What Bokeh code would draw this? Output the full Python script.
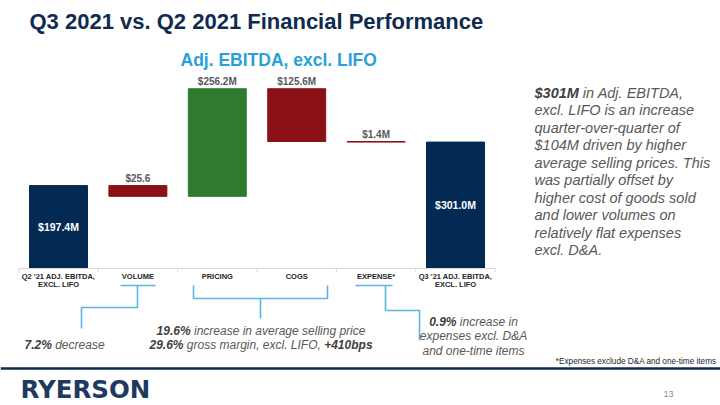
from bokeh.plotting import figure
from bokeh.models import Range1d, Label, ColumnDataSource
from bokeh.core.properties import value
from bokeh.embed import file_html
from bokeh.resources import INLINE

# ---------------- data ----------------
cat_line1 = ["Q2 '21 ADJ. EBITDA,", "VOLUME", "PRICING", "COGS", "EXPENSE*", "Q3 '21 ADJ. EBITDA,"]
cat_line2 = ["EXCL. LIFO", "", "", "", "", "EXCL. LIFO"]
steps = [197.4, -25.6, 256.2, -125.6, -1.4, 301.0]
is_total = [True, False, False, False, False, True]
value_labels = ["$197.4M", "$25.6", "$256.2M", "$125.6M", "$1.4M", "$301.0M"]

# ---------------- layout helpers ----------------
W, H = 720, 405
X0 = 58.0      # px of first category centre
DX = 79.4      # px per category
BASE = 268.0   # px (from top) of the zero line
S = 0.42       # px per $M
x_start = -X0 / DX
x_end = x_start + W / DX
y_end = BASE / S
y_start = y_end - H / S


def X(px):
    return x_start + px / DX


def Y(py):
    return y_end - py / S


FONT = "Liberation Sans"
NAVY = "#022a53"
RED = "#8c1117"
GREEN = "#2e7b30"
BLUE_LINE = "#5cb6df"
GREY = "#595959"
DARK = "#404040"

REG = {}
for ch, w in zip("abcdefghijklmnopqrstuvwxyz",
                 [556, 556, 500, 556, 556, 278, 556, 556, 222, 222, 500, 222, 833, 556, 556, 556, 556, 333, 500, 278, 556, 500, 722, 500, 500, 500]):
    REG[ch] = w
for ch, w in zip("ABCDEFGHIJKLMNOPQRSTUVWXYZ",
                 [667, 667, 722, 722, 667, 611, 778, 722, 278, 500, 667, 556, 833, 722, 778, 667, 778, 722, 667, 611, 722, 667, 944, 667, 667, 611]):
    REG[ch] = w
for ch in "0123456789":
    REG[ch] = 556
REG.update({" ": 278, ".": 278, ",": 278, "-": 333, "&": 667, "%": 889, "+": 584, "$": 556, "'": 191, "*": 389})
BOLD = dict(REG)
for ch, w in zip("abcdefghijklmnopqrstuvwxyz",
                 [556, 611, 556, 611, 556, 333, 611, 611, 278, 278, 556, 278, 889, 611, 611, 611, 611, 389, 556, 333, 611, 556, 778, 556, 556, 500]):
    BOLD[ch] = w
for ch, w in zip("ABCDEFGHIJKLMNOPQRSTUVWXYZ",
                 [722, 722, 722, 722, 667, 611, 778, 722, 278, 556, 722, 611, 833, 722, 778, 667, 778, 722, 667, 611, 722, 667, 944, 667, 667, 611]):
    BOLD[ch] = w
BOLD.update({"'": 238, "&": 722})


def tw(t, size, bold):
    d = BOLD if bold else REG
    return sum(d.get(c, 556) for c in t) * size / 1000.0


p = figure(width=W, height=H, output_backend="svg", toolbar_location=None,
           x_range=Range1d(x_start, x_end), y_range=Range1d(y_start, y_end),
           x_axis_location=None, y_axis_location=None, min_border=0,
           background_fill_color="white", border_fill_color="white")
p.outline_line_color = None
p.xgrid.visible = False
p.ygrid.visible = False


def label(text, px, py, size, style="normal", color=GREY, align="left", baseline="middle", font=FONT):
    p.add_layout(Label(x=X(px), y=Y(py), text=text, text_font=font, text_font_size=f"{size}px",
                       text_font_style=style, text_color=color, text_align=align,
                       text_baseline=baseline))


def rich(parts, px, py, size, align="left"):
    total = sum(tw(t, size, "bold" in st) for t, st, c in parts)
    x = px if align == "left" else (px - total / 2 if align == "center" else px - total)
    for t, st, c in parts:
        b = "bold" in st
        lead = len(t) - len(t.lstrip(" "))
        label(t.strip(" "), x + lead * tw(" ", size, b), py, size, st, c)
        x += tw(t, size, b)


# ---------------- waterfall ----------------
idx = list(range(len(steps)))
bottoms, tops, colors = [], [], []
run = 0.0
for v, tot in zip(steps, is_total):
    if tot:
        b, t = 0.0, v
        run = v
    else:
        b, t = run, run + v
        run += v
    bottoms.append(min(b, t))
    tops.append(max(b, t))
    colors.append(NAVY if tot else (GREEN if v > 0 else RED))

src = ColumnDataSource(dict(x=idx, bottom=bottoms, top=tops, color=colors))
p.vbar(x="x", bottom="bottom", top="top", width=0.73, fill_color="color", line_color="color",
       line_width=1, source=src)

# axis baseline and separators
p.segment(x0=[-0.5], y0=[0], x1=[len(idx) - 0.5], y1=[0], line_color="#d9d9d9", line_width=1)
sep = [i - 0.5 for i in range(len(idx) + 1)]
p.segment(x0=sep, y0=[0] * len(sep), x1=sep, y1=[-4 / S] * len(sep), line_color="#d9d9d9", line_width=1)

# value labels
out_x, out_y, out_t = [], [], []
in_x, in_y, in_t = [], [], []
for i, (tot, lab) in enumerate(zip(is_total, value_labels)):
    if tot:
        in_x.append(i); in_y.append(tops[i] / 2); in_t.append(lab)
    else:
        out_x.append(i); out_y.append(tops[i] + 1.5 / S); out_t.append(lab)
p.text(x=out_x, y=out_y, text=out_t, text_font=value(FONT), text_font_size="10px",
       text_font_style="bold", text_color=GREY, text_align="center", text_baseline="bottom")
p.text(x=in_x, y=in_y, text=in_t, text_font=value(FONT), text_font_size="10.5px",
       text_font_style="bold", text_color="white", text_align="center", text_baseline="middle")

# category labels
p.text(x=idx, y=[Y(276)] * len(idx), text=cat_line1, text_font=value(FONT), text_font_size="7.5px",
       text_font_style="bold", text_color="#262626", text_align="center", text_baseline="middle")
p.text(x=idx, y=[Y(284)] * len(idx), text=cat_line2, text_font=value(FONT), text_font_size="7.5px",
       text_font_style="bold", text_color="#262626", text_align="center", text_baseline="middle")

# ---------------- connectors ----------------
conn = [
    [(120, 285), (155, 285)],
    [(137, 285), (137, 307), (81, 307), (81, 328)],
    [(193, 285), (193, 298), (327, 298), (327, 285)],
    [(260, 298), (260, 318)],
    [(355, 285), (392, 285)],
    [(385, 285), (385, 310), (419, 310), (419, 340)],
]
p.multi_line(xs=[[X(a) for a, b in c] for c in conn], ys=[[Y(b) for a, b in c] for c in conn],
             line_color=BLUE_LINE, line_width=1.6)

# ---------------- texts ----------------
label("Q3 2021 vs. Q2 2021 Financial Performance", 29, 21, 22, "bold", "#0f2b50")
label("Adj. EBITDA, excl. LIFO", 180, 59, 17.5, "bold", "#2a9fd8")

para = ["excl. LIFO is an increase", "quarter-over-quarter of", "$104M driven by higher",
        "average selling prices. This", "was partially offset by", "higher cost of goods sold",
        "and lower volumes on", "relatively flat expenses", "excl. D&A."]
rich([("$301M", "bold italic", DARK), (" in Adj. EBITDA,", "italic", GREY)], 534, 92, 14.5)
for k, line in enumerate(para):
    label(line, 534, 92 + 17.5 * (k + 1), 14.5, "italic", GREY)

rich([("7.2%", "bold italic", DARK), (" decrease", "italic", GREY)], 24, 344, 12)
rich([("19.6%", "bold italic", DARK), (" increase in average selling price", "italic", GREY)], 260.5, 330, 12, "center")
rich([("29.6%", "bold italic", DARK), (" gross margin, excl. LIFO, ", "italic", GREY),
      ("+410bps", "bold italic", DARK)], 260.5, 344, 12, "center")
rich([("0.9%", "bold italic", DARK), (" increase in", "italic", GREY)], 473, 321, 12, "center")
label("expenses excl. D&A", 473, 335.5, 12, "italic", GREY, align="center")
label("and one-time items", 473, 350, 12, "italic", GREY, align="center")

label("*Expenses exclude D&A and one-time items", 716, 361, 8.2, "normal", "#262626", align="right")

p.segment(x0=[X(0)], y0=[Y(368)], x1=[X(W)], y1=[Y(368)], line_color="#0d2b50", line_width=2.5)
label("RYERSON", 20, 388.5, 24.5, "bold", "#1e3a60", font="DejaVu Sans")
label("13", 663, 393, 9, "normal", "#8c8c8c")

open("out.html", "w").write(file_html(p, INLINE))
